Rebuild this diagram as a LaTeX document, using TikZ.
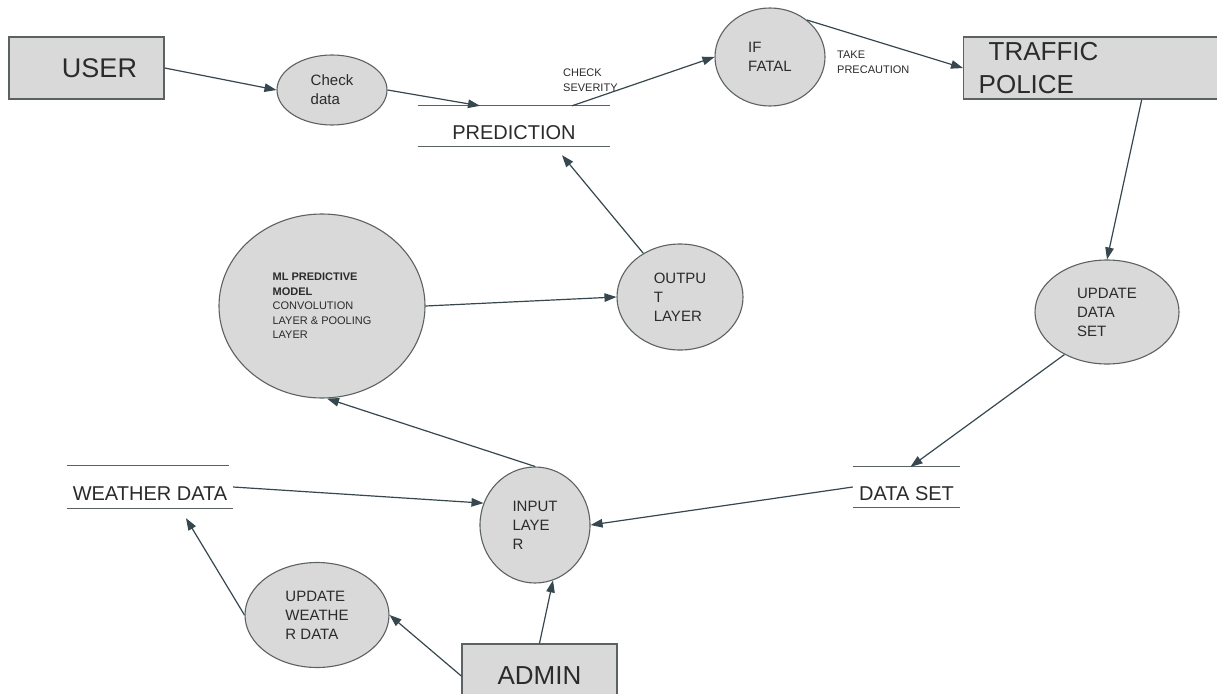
\documentclass[tikz,border=0pt]{standalone}
\usepackage{fontspec}
\setmainfont{Liberation Sans}
\usetikzlibrary{arrows.meta, shapes.geometric}
\definecolor{Cfill}{HTML}{D9D9D9}
\definecolor{Cline}{HTML}{37474F}
\definecolor{Cedge}{HTML}{5C6263}
\definecolor{Ctext}{HTML}{2B2B2B}
\tikzset{
  proc/.style={ellipse, draw=Cedge, fill=Cfill, line width=1.1pt,
    inner sep=0pt, align=left, text=Ctext, font=\fontsize{15}{19}\selectfont},
  ent/.style={rectangle, draw=Cedge, fill=Cfill, line width=1.4pt,
    inner sep=0pt, text=Ctext, font=\fontsize{27}{33}\selectfont},
  store/.style={inner sep=0pt, text height=26pt, text depth=0pt,
    text=Ctext, font=\fontsize{20}{24}\selectfont},
  storeline/.style={draw=Cedge, line width=1.3pt},
  arr/.style={-{Triangle[length=12pt, width=8.5pt]}, line width=1.2pt, Cline},
  lbl/.style={font=\fontsize{11}{15}\selectfont, text=Ctext, align=left, inner sep=0pt},
}

\begin{document}
\begin{tikzpicture}[x=1pt, y=-1pt]
\fill[white] (0,0) rectangle (1217,693);
\useasboundingbox (0,0) rectangle (1217,693);

%%==========================================================================
%% TOP ROW — user, check, prediction store, fatal test, traffic police
%%==========================================================================
\node[ent, minimum width=155pt, minimum height=62pt] (user) at (86.5,68) {\hspace{26pt}USER};
\node[proc, minimum width=110pt, minimum height=70pt] (chk) at (332,90) {Check\\data};
\node[store, minimum width=192pt, minimum height=40pt] (pred) at (514,126) {PREDICTION};
\node[proc, minimum width=110pt, minimum height=98pt] (fatal) at (770,57) {IF\\FATAL};
\node[ent, font=\fontsize{26}{33}\selectfont, anchor=west, align=left,
  inner xsep=15pt, text width=250pt, minimum height=62pt] (police) at (963,68)
  {\hspace*{10pt}TRAFFIC\\POLICE};

\node[lbl, anchor=west] (sev)  at (563,80) {CHECK\\SEVERITY};
\node[lbl, anchor=west] (prec) at (837,62) {TAKE\\PRECAUTION};

%%==========================================================================
%% MIDDLE — model and output layer, data set update
%%==========================================================================
\node[proc, minimum width=206pt, minimum height=184pt, font=\fontsize{11}{14.5}\selectfont] (ml)
  at (322,306) {\textbf{ML PREDICTIVE}\\\textbf{MODEL}\\CONVOLUTION\\LAYER \& POOLING\\LAYER};
\node[proc, minimum width=126pt, minimum height=106pt] (output) at (680,297) {OUTPU\\T\\LAYER};
\node[proc, minimum width=144pt, minimum height=104pt] (upd) at (1107,312) {UPDATE\\DATA\\SET};

%%==========================================================================
%% BOTTOM ROW — stores, input layer, admin
%%==========================================================================
\node[store, minimum width=166pt, minimum height=42pt] (weather) at (150,487) {WEATHER DATA};
\node[proc, minimum width=110pt, minimum height=116pt] (input) at (535,525) {INPUT\\LAYE\\R};
\node[store, minimum width=107pt, minimum height=40pt] (dset) at (906.5,487) {DATA SET};
\node[proc, minimum width=144pt, minimum height=105pt] (updw) at (317,615) {UPDATE\\WEATHE\\R DATA};
\node[ent, font=\fontsize{26}{33}\selectfont, minimum width=155pt, minimum height=64pt] (admin)
  at (539.5,676) {ADMIN};

%% Store lines (open-ended data stores)
\draw[storeline] (pred.north west) -- (pred.north east);
\draw[storeline] (pred.south west) -- (pred.south east);
\draw[storeline] (weather.north west) -- ([xshift=-4pt]weather.north east);
\draw[storeline] (weather.south west) -- (weather.south east);
\draw[storeline] (dset.north west) -- (dset.north east);
\draw[storeline] (dset.south west) -- (dset.south east);

%%==========================================================================
%% FLOWS
%%==========================================================================
\draw[arr] (user.east) -- (chk.west);
\draw[arr] (chk.east) -- ([xshift=-34pt]pred.north);
\draw[arr] ([xshift=58pt]pred.north) -- (fatal.west);
\draw[arr] (fatal.45) -- (police.west);
\draw[arr] ([xshift=38pt]police.south) -- (upd.north);
\draw[arr] (upd.225) -- ([xshift=4pt]dset.north);
\draw[arr] (dset.west) -- (input.east);
\draw[arr] (weather.east) -- (input.157);
\draw[arr] (input.north) -- ([xshift=5pt]ml.south);
\draw[arr] (ml.east) -- (output.west);
\draw[arr] (output.130) -- ([xshift=48pt, yshift=-9pt]pred.south);
\draw[arr] (admin.north) -- (input.-72);
\draw[arr] (admin.west) -- (updw.east);
\draw[arr] (updw.west) -- ([xshift=36pt, yshift=-10pt]weather.south);

\end{tikzpicture}
\end{document}
